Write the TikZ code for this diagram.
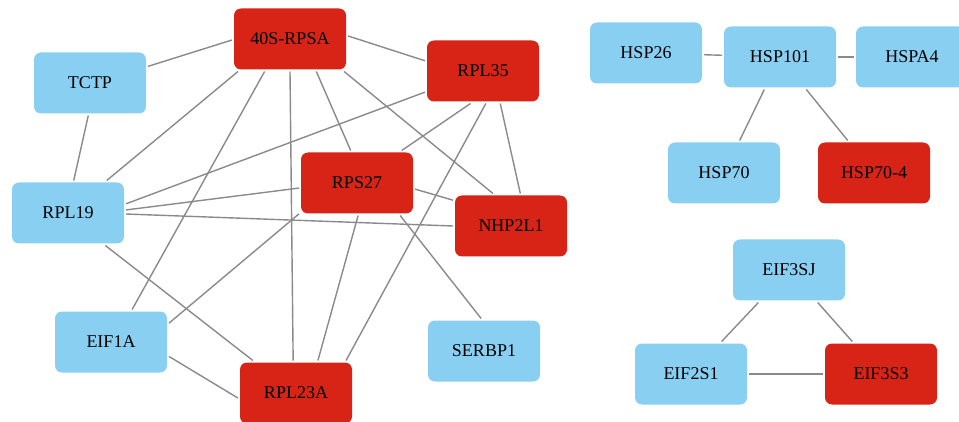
\documentclass[tikz,border=0pt]{standalone}
\usepackage{fontspec}
\setmainfont{Liberation Serif}
\definecolor{nodeblue}{RGB}{137,207,242}
\definecolor{nodered}{RGB}{216,36,22}
\definecolor{edgegray}{RGB}{138,138,138}

\begin{document}
\begin{tikzpicture}[x=1pt, y=-1pt,
    every node/.style={rectangle, rounded corners=7pt, minimum width=112pt, minimum height=61pt, align=center, font=\fontsize{18}{20}\selectfont, outer sep=2pt},
    bluebox/.style={fill=nodeblue},
    redbox/.style={fill=nodered},
    link/.style={draw=edgegray, line width=1.4pt}]
    \useasboundingbox (0,0) rectangle (959,422);

    % Nodes
    \node[redbox] (RPSA) at (290,39) {40S-RPSA};
    \node[bluebox] (TCTP) at (90,83) {TCTP};
    \node[redbox] (RPL35) at (483,71) {RPL35};
    \node[redbox] (RPS27) at (357,183) {RPS27};
    \node[bluebox] (RPL19) at (68,213) {RPL19};
    \node[redbox] (NHP2L1) at (511,226) {NHP2L1};
    \node[bluebox] (EIF1A) at (111,342) {EIF1A};
    \node[bluebox] (SERBP1) at (484,351) {SERBP1};
    \node[redbox] (RPL23A) at (296,393) {RPL23A};

    \node[bluebox] (HSP26) at (646,53) {HSP26};
    \node[bluebox] (HSP101) at (780,57) {HSP101};
    \node[bluebox] (HSPA4) at (912,57) {HSPA4};
    \node[bluebox] (HSP70) at (724,173) {HSP70};
    \node[redbox] (HSP704) at (874,173) {HSP70-4};

    \node[bluebox] (EIF3SJ) at (789,270) {EIF3SJ};
    \node[bluebox] (EIF2S1) at (691,374) {EIF2S1};
    \node[redbox] (EIF3S3) at (881,374) {EIF3S3};

    % Edges, ribosome cluster
    \draw[link] (RPSA.181) -- (TCTP.16);
    \draw[link] (RPSA.3) -- (RPL35.170);
    \draw[link] (RPSA.212) -- (RPL19.40);
    \draw[link] (RPSA.232) -- (EIF1A.57);
    \draw[link] (RPSA.270) -- (RPL23A.95);
    \draw[link] (RPSA.309) -- (RPS27.101);
    \draw[link] (RPSA.329) -- (NHP2L1.119);
    \draw[link] (TCTP.267) -- (RPL19.80);
    \draw[link] (RPL35.200) -- (RPL19.9);
    \draw[link] (RPL35.249) -- (RPS27.36);
    \draw[link] (RPL35.275) -- (RPL23A.33);
    \draw[link] (RPL35.298) -- (NHP2L1.74);
    \draw[link] (RPS27.185) -- (RPL19.3);
    \draw[link] (RPS27.354) -- (NHP2L1.156);
    \draw[link] (RPS27.208) -- (EIF1A.18);
    \draw[link] (RPS27.272) -- (RPL23A.56);
    \draw[link] (RPS27.323) -- (SERBP1.95);
    \draw[link] (RPL19.359) -- (NHP2L1.180);
    \draw[link] (RPL19.319) -- (RPL23A.143);
    \draw[link] (EIF1A.346) -- (RPL23A.185);

    % Edges, heat shock cluster
    \draw[link] (HSP101) -- (HSP26);
    \draw[link] (HSP101) -- (HSPA4);
    \draw[link] (HSP101) -- (HSP70);
    \draw[link] (HSP101) -- (HSP704);

    % Edges, initiation factor cluster
    \draw[link] (EIF3SJ) -- (EIF2S1);
    \draw[link] (EIF3SJ) -- (EIF3S3);
    \draw[link] (EIF2S1) -- (EIF3S3);
\end{tikzpicture}
\end{document}
